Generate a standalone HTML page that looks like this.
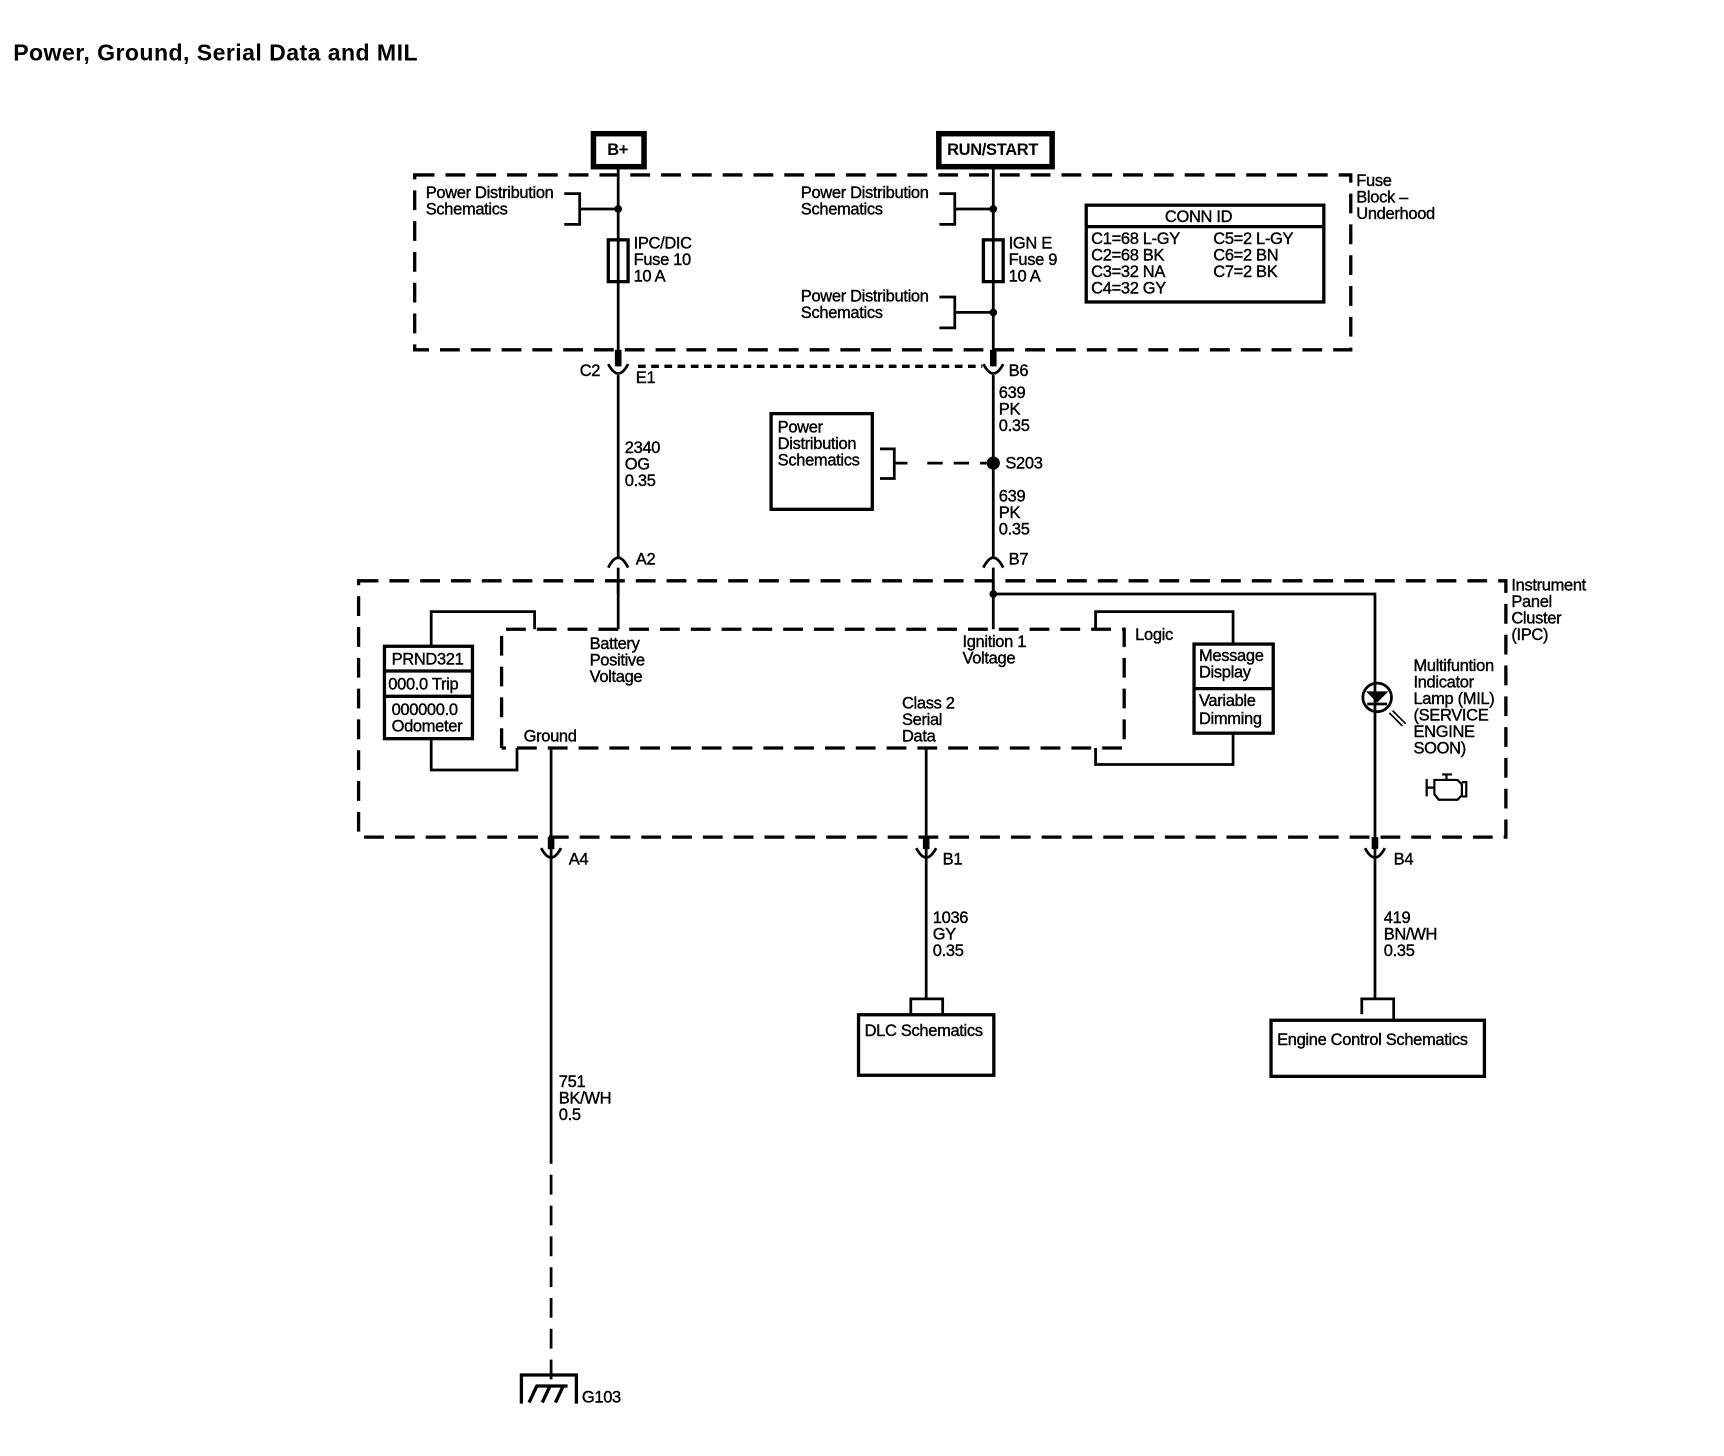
<!DOCTYPE html>
<html><head><meta charset="utf-8"><style>
html,body{margin:0;padding:0;background:#fff;}
svg{display:block;}
text{font-family:"Liberation Sans",Arial,sans-serif;font-size:15px;fill:#000;stroke:#000;stroke-width:0.35px;letter-spacing:-0.3px;}
</style></head><body>
<svg width="1724" height="1456" viewBox="0 0 1567.3 1323.6" xmlns="http://www.w3.org/2000/svg">
<text x="12" y="55" style="font-size:21px;font-weight:bold;letter-spacing:0.4px;stroke-width:0">Power, Ground, Serial Data and MIL</text>

<g fill="none" stroke="#000" stroke-width="2.5">
<rect x="539.5" y="121.5" width="46" height="30" stroke-width="5"/>
<rect x="853.5" y="121.5" width="103" height="30" stroke-width="5"/>
<rect x="377" y="159" width="851" height="159" stroke-width="3" stroke-dasharray="18,10"/>
<line x1="562" y1="153" x2="562" y2="333"/>
<line x1="903" y1="153" x2="903" y2="333"/>
<line x1="562" y1="318" x2="562" y2="333" stroke-width="6"/>
<line x1="903" y1="318" x2="903" y2="333" stroke-width="6"/>
<path d="M513,176 H527 V204 H513 M527,190 H562"/>
<path d="M854,176 H868 V204 H854 M868,190 H903"/>
<path d="M854,270 H868 V298 H854 M868,284 H903"/>
<rect x="553" y="218" width="18" height="38" fill="#fff" stroke-width="3"/>
<line x1="562" y1="218" x2="562" y2="256"/>
<rect x="894" y="218" width="18" height="38" fill="#fff" stroke-width="3"/>
<line x1="903" y1="218" x2="903" y2="256"/>
<rect x="987.5" y="186.5" width="216" height="88" stroke-width="3"/>
<line x1="987" y1="206" x2="1204" y2="206" stroke-width="3"/>
<path d="M553,331 Q562,348 571,331"/>
<path d="M894,331 Q903,348 912,331"/>
<line x1="580" y1="333" x2="893" y2="333" stroke-width="3" stroke-dasharray="7,5"/>
<line x1="562" y1="341" x2="562" y2="540"/>
<line x1="903" y1="341" x2="903" y2="540"/>
<rect x="701" y="376" width="92" height="87" stroke-width="3"/>
<path d="M800,408 H813 V435 H800 M813,421 H825"/>
<line x1="843" y1="421" x2="897" y2="421" stroke-dasharray="14,10"/>
<path d="M553,516 Q562,498 571,516" fill="#fff"/>
<path d="M894,516 Q903,498 912,516" fill="#fff"/>
<rect x="326" y="528" width="1043" height="233" stroke-width="3" stroke-dasharray="18,10"/>
<line x1="562" y1="528" x2="562" y2="572"/>
<path d="M903,528 V572 M903,540 H1250 V770"/>
<path d="M456,680 V572 H1022 V680 H456" stroke-width="3" stroke-dasharray="18,10"/>
<path d="M392,587 V556 H486 V572"/>
<path d="M392,672 V700 H470 V680"/>
<rect x="349.5" y="587.5" width="80" height="84" stroke-width="3"/>
<line x1="349" y1="610" x2="430" y2="610" stroke-width="3"/>
<line x1="349" y1="633" x2="430" y2="633" stroke-width="3"/>
<path d="M996,572 V556 H1121 V586"/>
<path d="M1121,667 V695 H996 V680"/>
<rect x="1085.5" y="585.5" width="72" height="81" stroke-width="3"/>
<line x1="1085" y1="626" x2="1158" y2="626" stroke-width="3"/>
<line x1="501" y1="680" x2="501" y2="1040"/>
<line x1="501" y1="1040" x2="501" y2="1262" stroke-dasharray="18,10"/>
<line x1="842" y1="680" x2="842" y2="907"/>
<line x1="1250" y1="770" x2="1250" y2="907"/>
<line x1="501" y1="761" x2="501" y2="772" stroke-width="6"/>
<line x1="842" y1="761" x2="842" y2="772" stroke-width="6"/>
<line x1="1250" y1="761" x2="1250" y2="772" stroke-width="6"/>
<path d="M492,771 Q501,788 510,771"/>
<path d="M833,771 Q842,788 851,771"/>
<path d="M1241,771 Q1250,788 1259,771"/>
<path d="M828,922 V908 H857 V922"/>
<rect x="780.5" y="922.5" width="123" height="55" stroke-width="3"/>
<path d="M1238,922 V908 H1267 V927"/>
<rect x="1155.5" y="927.5" width="194" height="51" stroke-width="3"/>
<path d="M474,1276 V1250 H524 V1276" stroke-width="3"/>
<path d="M481,1275 L488,1260 M493,1275 L500,1260 M505,1275 L512,1260 M487,1260 H516" stroke-width="3"/>
<circle cx="1252" cy="634" r="13"/>
<path d="M1243,629 H1261 L1252,638 Z" fill="#000" stroke-width="1"/>
<line x1="1243" y1="640" x2="1261" y2="640"/>
<path d="M1263,648 L1275,660 M1266,646 L1278,658" stroke-width="1.5"/>
<path d="M1297,708 V724 M1297,716 H1304 M1304,709 H1325 L1329,713 V723 L1325,727 H1308 L1304,722 Z M1311,704 H1320 M1315,704 V709 M1329,711 H1333 V724 H1329" stroke-width="2"/>
</g>
<circle cx="562" cy="190" r="3.5"/>
<circle cx="903" cy="190" r="3.5"/>
<circle cx="903" cy="284" r="3.5"/>
<circle cx="903" cy="421" r="6"/>
<circle cx="903" cy="540" r="3.5"/>

<text x="552" y="141" style="font-weight:bold;stroke-width:0">B+</text>
<text x="861" y="141" style="font-weight:bold;stroke-width:0">RUN/START</text>
<text x="387" y="180">Power Distribution</text><text x="387" y="195">Schematics</text>
<text x="728" y="180">Power Distribution</text><text x="728" y="195">Schematics</text>
<text x="728" y="274">Power Distribution</text><text x="728" y="289">Schematics</text>
<text x="576" y="226">IPC/DIC</text><text x="576" y="241">Fuse 10</text><text x="576" y="256">10 A</text>
<text x="917" y="226">IGN E</text><text x="917" y="241">Fuse 9</text><text x="917" y="256">10 A</text>
<text x="1059" y="202">CONN ID</text>
<text x="992" y="222">C1=68 L-GY</text><text x="992" y="237">C2=68 BK</text><text x="992" y="252">C3=32 NA</text><text x="992" y="267">C4=32 GY</text>
<text x="1103" y="222">C5=2 L-GY</text><text x="1103" y="237">C6=2 BN</text><text x="1103" y="252">C7=2 BK</text>
<text x="1233" y="169">Fuse</text><text x="1233" y="184">Block –</text><text x="1233" y="199">Underhood</text>
<text x="527" y="342">C2</text><text x="578" y="348">E1</text><text x="917" y="342">B6</text>
<text x="908" y="362">639</text><text x="908" y="377">PK</text><text x="908" y="392">0.35</text>
<text x="568" y="412">2340</text><text x="568" y="427">OG</text><text x="568" y="442">0.35</text>
<text x="707" y="393">Power</text><text x="707" y="408">Distribution</text><text x="707" y="423">Schematics</text>
<text x="914" y="426">S203</text>
<text x="908" y="456">639</text><text x="908" y="471">PK</text><text x="908" y="486">0.35</text>
<text x="578" y="513">A2</text><text x="917" y="513">B7</text>
<text x="1374" y="537">Instrument</text><text x="1374" y="552">Panel</text><text x="1374" y="567">Cluster</text><text x="1374" y="582">(IPC)</text>
<text x="536" y="590">Battery</text><text x="536" y="605">Positive</text><text x="536" y="620">Voltage</text>
<text x="875" y="588">Ignition 1</text><text x="875" y="603">Voltage</text>
<text x="1032" y="582">Logic</text>
<text x="356" y="604">PRND321</text><text x="353" y="627">000.0 Trip</text><text x="356" y="650">000000.0</text><text x="356" y="665">Odometer</text>
<text x="1090" y="601">Message</text><text x="1090" y="616">Display</text><text x="1090" y="642">Variable</text><text x="1090" y="658">Dimming</text>
<text x="820" y="644">Class 2</text><text x="820" y="659">Serial</text><text x="820" y="674">Data</text>
<text x="476" y="674">Ground</text>
<text x="1285" y="610">Multifuntion</text><text x="1285" y="625">Indicator</text><text x="1285" y="640">Lamp (MIL)</text><text x="1285" y="655">(SERVICE</text><text x="1285" y="670">ENGINE</text><text x="1285" y="685">SOON)</text>
<text x="517" y="786">A4</text><text x="857" y="786">B1</text><text x="1267" y="786">B4</text>
<text x="848" y="839">1036</text><text x="848" y="854">GY</text><text x="848" y="869">0.35</text>
<text x="1258" y="839">419</text><text x="1258" y="854">BN/WH</text><text x="1258" y="869">0.35</text>
<text x="786" y="942">DLC Schematics</text>
<text x="1161" y="950">Engine Control Schematics</text>
<text x="508" y="988">751</text><text x="508" y="1003">BK/WH</text><text x="508" y="1018">0.5</text>
<text x="529" y="1275">G103</text>
</svg>
</body></html>
